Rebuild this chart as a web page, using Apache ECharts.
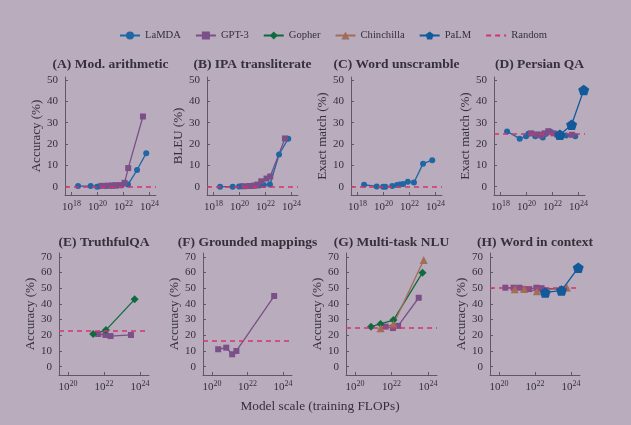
<!DOCTYPE html>
<html>
<head>
<meta charset="utf-8">
<script src="https://cdn.jsdelivr.net/npm/echarts@6/dist/echarts.min.js"></script>
<style>
html,body{margin:0;padding:0;background:#b9acbd;}
#chart{width:631px;height:425px;}
</style>
</head>
<body>
<div id="chart"></div>
<script>
// ---------- data (training FLOPs, scores in %) ----------
const lamdaFlops = [3.2e18, 3.0e19, 9.3e19, 1.4e20, 4.7e20, 1.1e21, 1.8e21, 3.2e21, 7.4e21, 2.2e22, 1.1e23, 5.6e23];
const gpt3Flops = [2.25e20, 6.41e20, 1.37e21, 2.38e21, 4.77e21, 1.20e22, 2.31e22, 3.14e23];
const gpt3FlopsLarge = [4.77e21, 1.20e22, 2.31e22, 3.14e23];
const gpt3FlopsF = [2.25e20, 6.41e20, 1.37e21, 2.38e21, 3.14e23];
const gopherFlops = [7.5e20, 2.5e21, 1.28e22, 5.04e23];
const gopherFlopsE = [2.5e21, 1.28e22, 5.04e23];
const chinchillaFlopsG = [2.5e21, 1.28e22, 5.88e23];
const chinchillaFlopsH = [7.5e20, 2.5e21, 1.28e22, 5.88e23];
const palmFlops = [3.7e22, 2.95e23, 2.53e24];

// (A) Mod. arithmetic
const modArithLamda = [0.3, 0.3, 0, 0.2, 0.3, 0.4, 0.5, 0.5, 0.7, 1.0, 7.8, 15.7];
const modArithGpt3 = [0.4, 0.5, 0.5, 0.6, 0.7, 1.8, 8.7, 32.9];
// (B) IPA transliterate
const ipaLamda = [0, 0, 0.1, 0.2, 0.3, 0.4, 0.5, 0.6, 0.8, 1.0, 15.1, 22.5];
const ipaGpt3 = [0.2, 0.3, 0.5, 1.0, 2.5, 3.8, 4.8, 22.6];
// (C) Word unscramble
const unscrambleLamda = [0.9, 0.1, 0, 0, 0.3, 0.8, 1.0, 1.2, 2.3, 2.0, 10.8, 12.4];
// (D) Persian QA
const persianLamda = [25.9, 22.5, 23.6, 24.8, 23.6, 24.3, 23.0, 24.8, 25.6, 24.3, 24.0, 23.6];
const persianGpt3 = [25, 24.5, 24, 25, 26, 25, 24.5, 24.3];
const persianPalm = [24.3, 29, 45.3];
// (E) TruthfulQA
const truthfulGopher = [20.8, 23.3, 42.9];
const truthfulGpt3 = [20.8, 20.2, 19.5, 20.2];
// (F) Grounded mappings
const groundedGpt3 = [11.1, 12.1, 7.9, 10, 45];
// (G) Multi-task NLU
const mmluGopher = [25.5, 27.2, 29.7, 59.9];
const mmluChinchilla = [24.4, 27, 68];
const mmluGpt3 = [25.5, 24.6, 26, 43.9];
// (H) Word in context
const wicGpt3 = [50.3, 50.3, 50.3, 49.4, 49.4, 50.3, 50, 49.4];
const wicChinchilla = [49.3, 49.5, 48, 50.5];
const wicPalm = [47.3, 48.5, 63];

// random baselines
const randomLevels = [0, 0, 0, 25, 22.6, 16.6, 25, 50];

// labels
const panelTitles = ['(A) Mod. arithmetic', '(B) IPA transliterate', '(C) Word unscramble', '(D) Persian QA',
  '(E) TruthfulQA', '(F) Grounded mappings', '(G) Multi-task NLU', '(H) Word in context'];
const yNames = ['Accuracy (%)', 'BLEU (%)', 'Exact match (%)', 'Exact match (%)',
  'Accuracy (%)', 'Accuracy (%)', 'Accuracy (%)', 'Accuracy (%)'];
const row1XTicks = [18, 20, 22, 24];
const row2XTicks = [20, 22, 24];
const row1YTicks = [0, 10, 20, 30, 40, 50];
const row2YTicks = [0, 10, 20, 30, 40, 50, 60, 70];
const legendNames = ['LaMDA', 'GPT-3', 'Gopher', 'Chinchilla', 'PaLM', 'Random'];
const xAxisTitle = 'Model scale (training FLOPs)';

// ---------- style ----------
const FONT = '"Liberation Serif", "DejaVu Serif", serif';
const TEXT = '#35303a';
const AXIS = '#5f5866';
const COLORS = {LaMDA: '#1f67a3', 'GPT-3': '#7b4f88', Gopher: '#0f6b3e', Chinchilla: '#a06d58', PaLM: '#135a9b', Random: '#d4336e'};
const PENT = 'path://M0,-10 L9.51,-3.09 L5.88,8.09 L-5.88,8.09 L-9.51,-3.09 Z';
const SYM = {
  LaMDA: {symbol: 'circle', size: 6},
  'GPT-3': {symbol: 'rect', size: 6},
  Gopher: {symbol: 'diamond', size: 8},
  Chinchilla: {symbol: 'triangle', size: 8},
  PaLM: {symbol: PENT, size: 11}
};

// grid geometry [left, top, width, height]
const gridBoxes = [
  [65, 77, 91, 118], [207, 77, 91, 118], [351, 77, 91, 118], [494, 77, 91, 118],
  [59, 253, 90, 122], [203, 253, 89, 122], [346, 253, 91, 122], [490, 253, 90, 122]
];

const panels = [
  [['LaMDA', lamdaFlops, modArithLamda], ['GPT-3', gpt3Flops, modArithGpt3]],
  [['LaMDA', lamdaFlops, ipaLamda], ['GPT-3', gpt3Flops, ipaGpt3]],
  [['LaMDA', lamdaFlops, unscrambleLamda]],
  [['LaMDA', lamdaFlops, persianLamda], ['GPT-3', gpt3Flops, persianGpt3], ['PaLM', palmFlops, persianPalm]],
  [['GPT-3', gpt3FlopsLarge, truthfulGpt3], ['Gopher', gopherFlopsE, truthfulGopher]],
  [['GPT-3', gpt3FlopsF, groundedGpt3]],
  [['GPT-3', gpt3FlopsLarge, mmluGpt3], ['Gopher', gopherFlops, mmluGopher], ['Chinchilla', chinchillaFlopsG, mmluChinchilla]],
  [['GPT-3', gpt3Flops, wicGpt3], ['Chinchilla', chinchillaFlopsH, wicChinchilla], ['PaLM', palmFlops, wicPalm]]
];

const grids = [], xAxes = [], yAxes = [], series = [], graphics = [];

gridBoxes.forEach((b, i) => {
  const row1 = i < 4;
  grids.push({left: b[0], top: b[1], width: b[2], height: b[3]});
  const xt = row1 ? row1XTicks : row2XTicks;
  const yt = row1 ? row1YTicks : row2YTicks;
  xAxes.push({
    gridIndex: i, type: 'value',
    min: row1 ? 17.5 : 19.5, max: 24.5,
    axisLine: {show: true, onZero: false, lineStyle: {color: AXIS, width: 1}},
    axisTick: {show: true, inside: true, length: 3, customValues: xt, lineStyle: {color: AXIS}},
    axisLabel: {
      customValues: xt, margin: 5,
      formatter: v => '{b|10}{s|' + v + '}',
      rich: {
        b: {fontFamily: FONT, fontSize: 11, color: TEXT, verticalAlign: 'bottom'},
        s: {fontFamily: FONT, fontSize: 8, color: TEXT, verticalAlign: 'bottom', padding: [0, 0, 5, 0]}
      }
    },
    splitLine: {show: false}
  });
  yAxes.push({
    gridIndex: i, type: 'value',
    min: row1 ? -3.9 : -5.3, max: row1 ? 51.4 : 72.4,
    axisLine: {show: true, lineStyle: {color: AXIS, width: 1}},
    axisTick: {show: true, inside: true, length: 3, customValues: yt, lineStyle: {color: AXIS}},
    axisLabel: {customValues: yt, margin: 7, fontFamily: FONT, fontSize: 11, color: TEXT},
    splitLine: {show: false},
    name: yNames[i], nameLocation: 'middle', nameGap: 16,
    nameTextStyle: {fontFamily: FONT, fontSize: 13, color: TEXT}
  });
  // random baseline
  series.push({
    name: 'Random', type: 'line', xAxisIndex: i, yAxisIndex: i, data: [],
    symbol: 'none', symbolSize: 0, z: 1,
    lineStyle: {color: COLORS.Random, type: [5, 4], width: 1.5},
    itemStyle: {color: COLORS.Random},
    markLine: {
      silent: true, symbol: ['none', 'none'], label: {show: false},
      lineStyle: {color: COLORS.Random, type: [5, 4], width: 1.5},
      data: [{yAxis: randomLevels[i]}]
    }
  });
  panels[i].forEach(([name, xs, ys]) => {
    series.push({
      name, type: 'line', xAxisIndex: i, yAxisIndex: i,
      data: xs.map((x, k) => [Math.log10(x), ys[k]]),
      symbol: SYM[name].symbol, symbolSize: SYM[name].size, symbolKeepAspect: true,
      showSymbol: true, z: name === 'PaLM' ? 5 : 3,
      lineStyle: {color: COLORS[name], width: 1.3},
      itemStyle: {color: COLORS[name]}
    });
  });
  graphics.push({
    type: 'text', x: b[0] + b[2] / 2, y: row1 ? 65 : 243,
    style: {text: panelTitles[i], fill: TEXT, font: 'bold 13.5px ' + FONT, textAlign: 'center', textVerticalAlign: 'middle'}
  });
});

graphics.push({
  type: 'text', x: 320, y: 407,
  style: {text: xAxisTitle, fill: TEXT, font: '13.3px ' + FONT, textAlign: 'center', textVerticalAlign: 'middle'}
});

const legendData = legendNames.map(n => n === 'Random'
  ? {name: n, itemStyle: {opacity: 0}}
  : {name: n});

const chart = echarts.init(document.getElementById('chart'), null, {renderer: 'canvas'});
chart.setOption({
  backgroundColor: '#b9acbd',
  animation: false,
  legend: {
    data: legendData, left: 119, top: 30, padding: 0, itemWidth: 20, itemHeight: 10, itemGap: 14,
    textStyle: {fontFamily: FONT, fontSize: 10.6, color: TEXT}
  },
  grid: grids, xAxis: xAxes, yAxis: yAxes, series, graphic: graphics
});
</script>
</body>
</html>
